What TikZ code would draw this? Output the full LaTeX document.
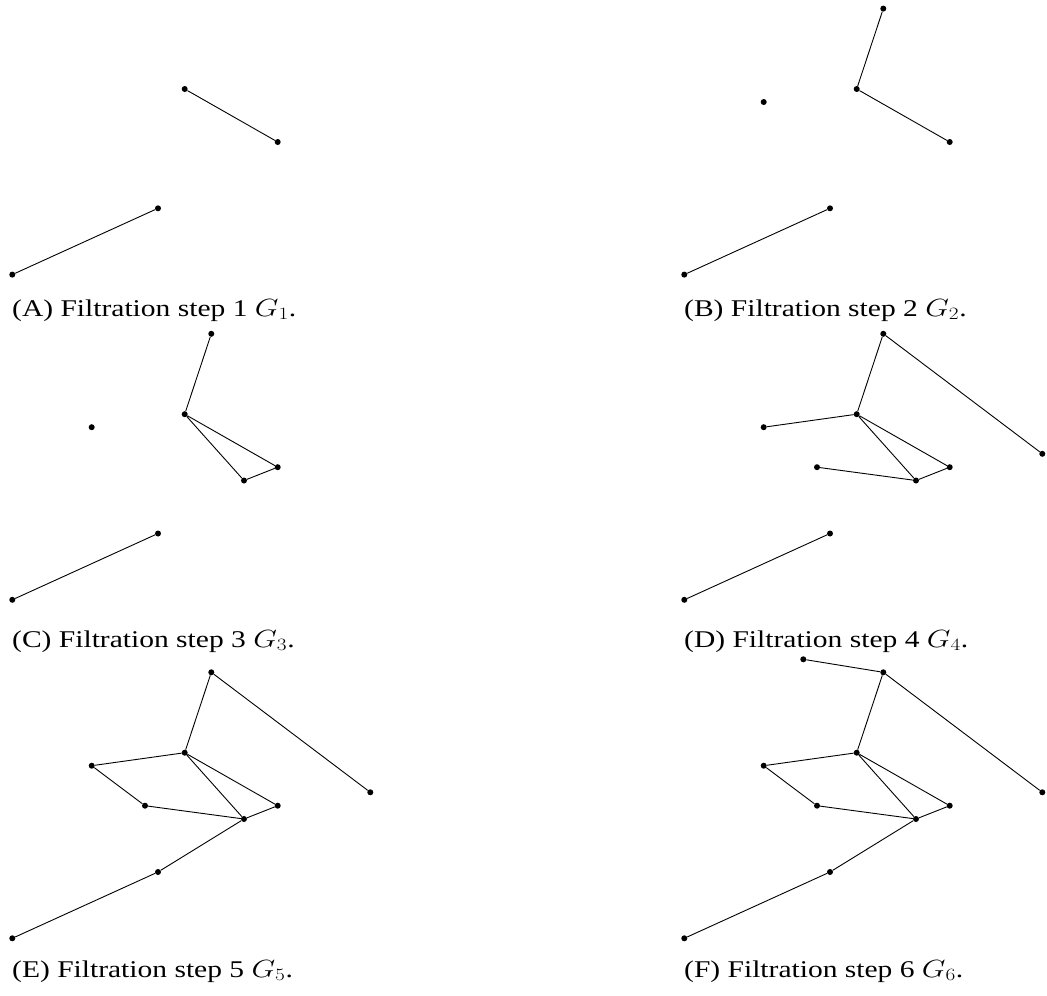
\documentclass[tikz,border=0pt]{standalone}
\usepackage{graphicx}
\usepackage{fontspec}
\setmainfont{Liberation Serif}
\newcommand{\captxt}[1]{\scalebox{1.23}[1]{\fontsize{24}{28}\selectfont #1}}
\begin{document}
\begin{tikzpicture}[x=1pt,y=-1pt,
  dot/.style={circle,fill=black,inner sep=0pt,minimum size=6pt},
  edge/.style={line width=0.9pt},
  captext/.style={anchor=base west,inner sep=0pt}]
\useasboundingbox (0,0) rectangle (1047,996);
% base coordinates of the full graph (panel E)
\newcommand{\placenodes}[2]{%
  \begin{scope}[shift={(#2)}]
  \foreach \n/\px/\py in {a/12.3/938.3,b/158/872,c/244/819,d/277.7/805.7,e/145/805.7,
      f/91.7/765.7,g/184.7/752.7,h/211.3/672.3,i/370.3/792.3,j/131.3/659.3}
    {\coordinate (#1-\n) at (\px,\py);}
  \end{scope}}
\placenodes{A}{0,-663.7}
\placenodes{B}{672,-663.7}
\placenodes{C}{0,-338.5}
\placenodes{D}{672,-338.5}
\placenodes{E}{0,0}
\placenodes{F}{672,0}
% Panel A
\foreach \n in {a,b,d,g} {\node[dot] (A\n) at (A-\n) {};}
\draw[edge] (Ag) -- (Ad) (Aa) -- (Ab);
% Panel B
\foreach \n in {a,b,d,f,g,h} {\node[dot] (B\n) at (B-\n) {};}
\draw[edge] (Bh) -- (Bg) -- (Bd) (Ba) -- (Bb);
% Panel C
\foreach \n in {a,b,c,d,f,g,h} {\node[dot] (C\n) at (C-\n) {};}
\draw[edge] (Ch) -- (Cg) -- (Cd) -- (Cc) -- (Cg) (Ca) -- (Cb);
% Panel D
\foreach \n in {a,b,c,d,e,f,g,h,i} {\node[dot] (D\n) at (D-\n) {};}
\draw[edge] (Di) -- (Dh) -- (Dg) -- (Dd) -- (Dc) -- (Dg) (Df) -- (Dg) (De) -- (Dc) (Da) -- (Db);
% Panel E
\foreach \n in {a,b,c,d,e,f,g,h,i} {\node[dot] (E\n) at (E-\n) {};}
\draw[edge] (Ei) -- (Eh) -- (Eg) -- (Ed) -- (Ec) -- (Eg) -- (Ef) -- (Ee) -- (Ec) -- (Eb) -- (Ea);
% Panel F
\foreach \n in {a,b,c,d,e,f,g,h,i,j} {\node[dot] (F\n) at (F-\n) {};}
\draw[edge] (Fj) -- (Fh) (Fi) -- (Fh) -- (Fg) -- (Fd) -- (Fc) -- (Fg) -- (Ff) -- (Fe) -- (Fc) -- (Fb) -- (Fa);
% captions
\node[captext] (capA) at (12,316) {\captxt{(A) Filtration step 1 $G_1$.}};
\node[captext] (capB) at (684,316) {\captxt{(B) Filtration step 2 $G_2$.}};
\node[captext] (capC) at (12,647) {\captxt{(C) Filtration step 3 $G_3$.}};
\node[captext] (capD) at (684,647) {\captxt{(D) Filtration step 4 $G_4$.}};
\node[captext] (capE) at (12,977) {\captxt{(E) Filtration step 5 $G_5$.}};
\node[captext] (capF) at (684,977) {\captxt{(F) Filtration step 6 $G_6$.}};
\end{tikzpicture}
\end{document}
